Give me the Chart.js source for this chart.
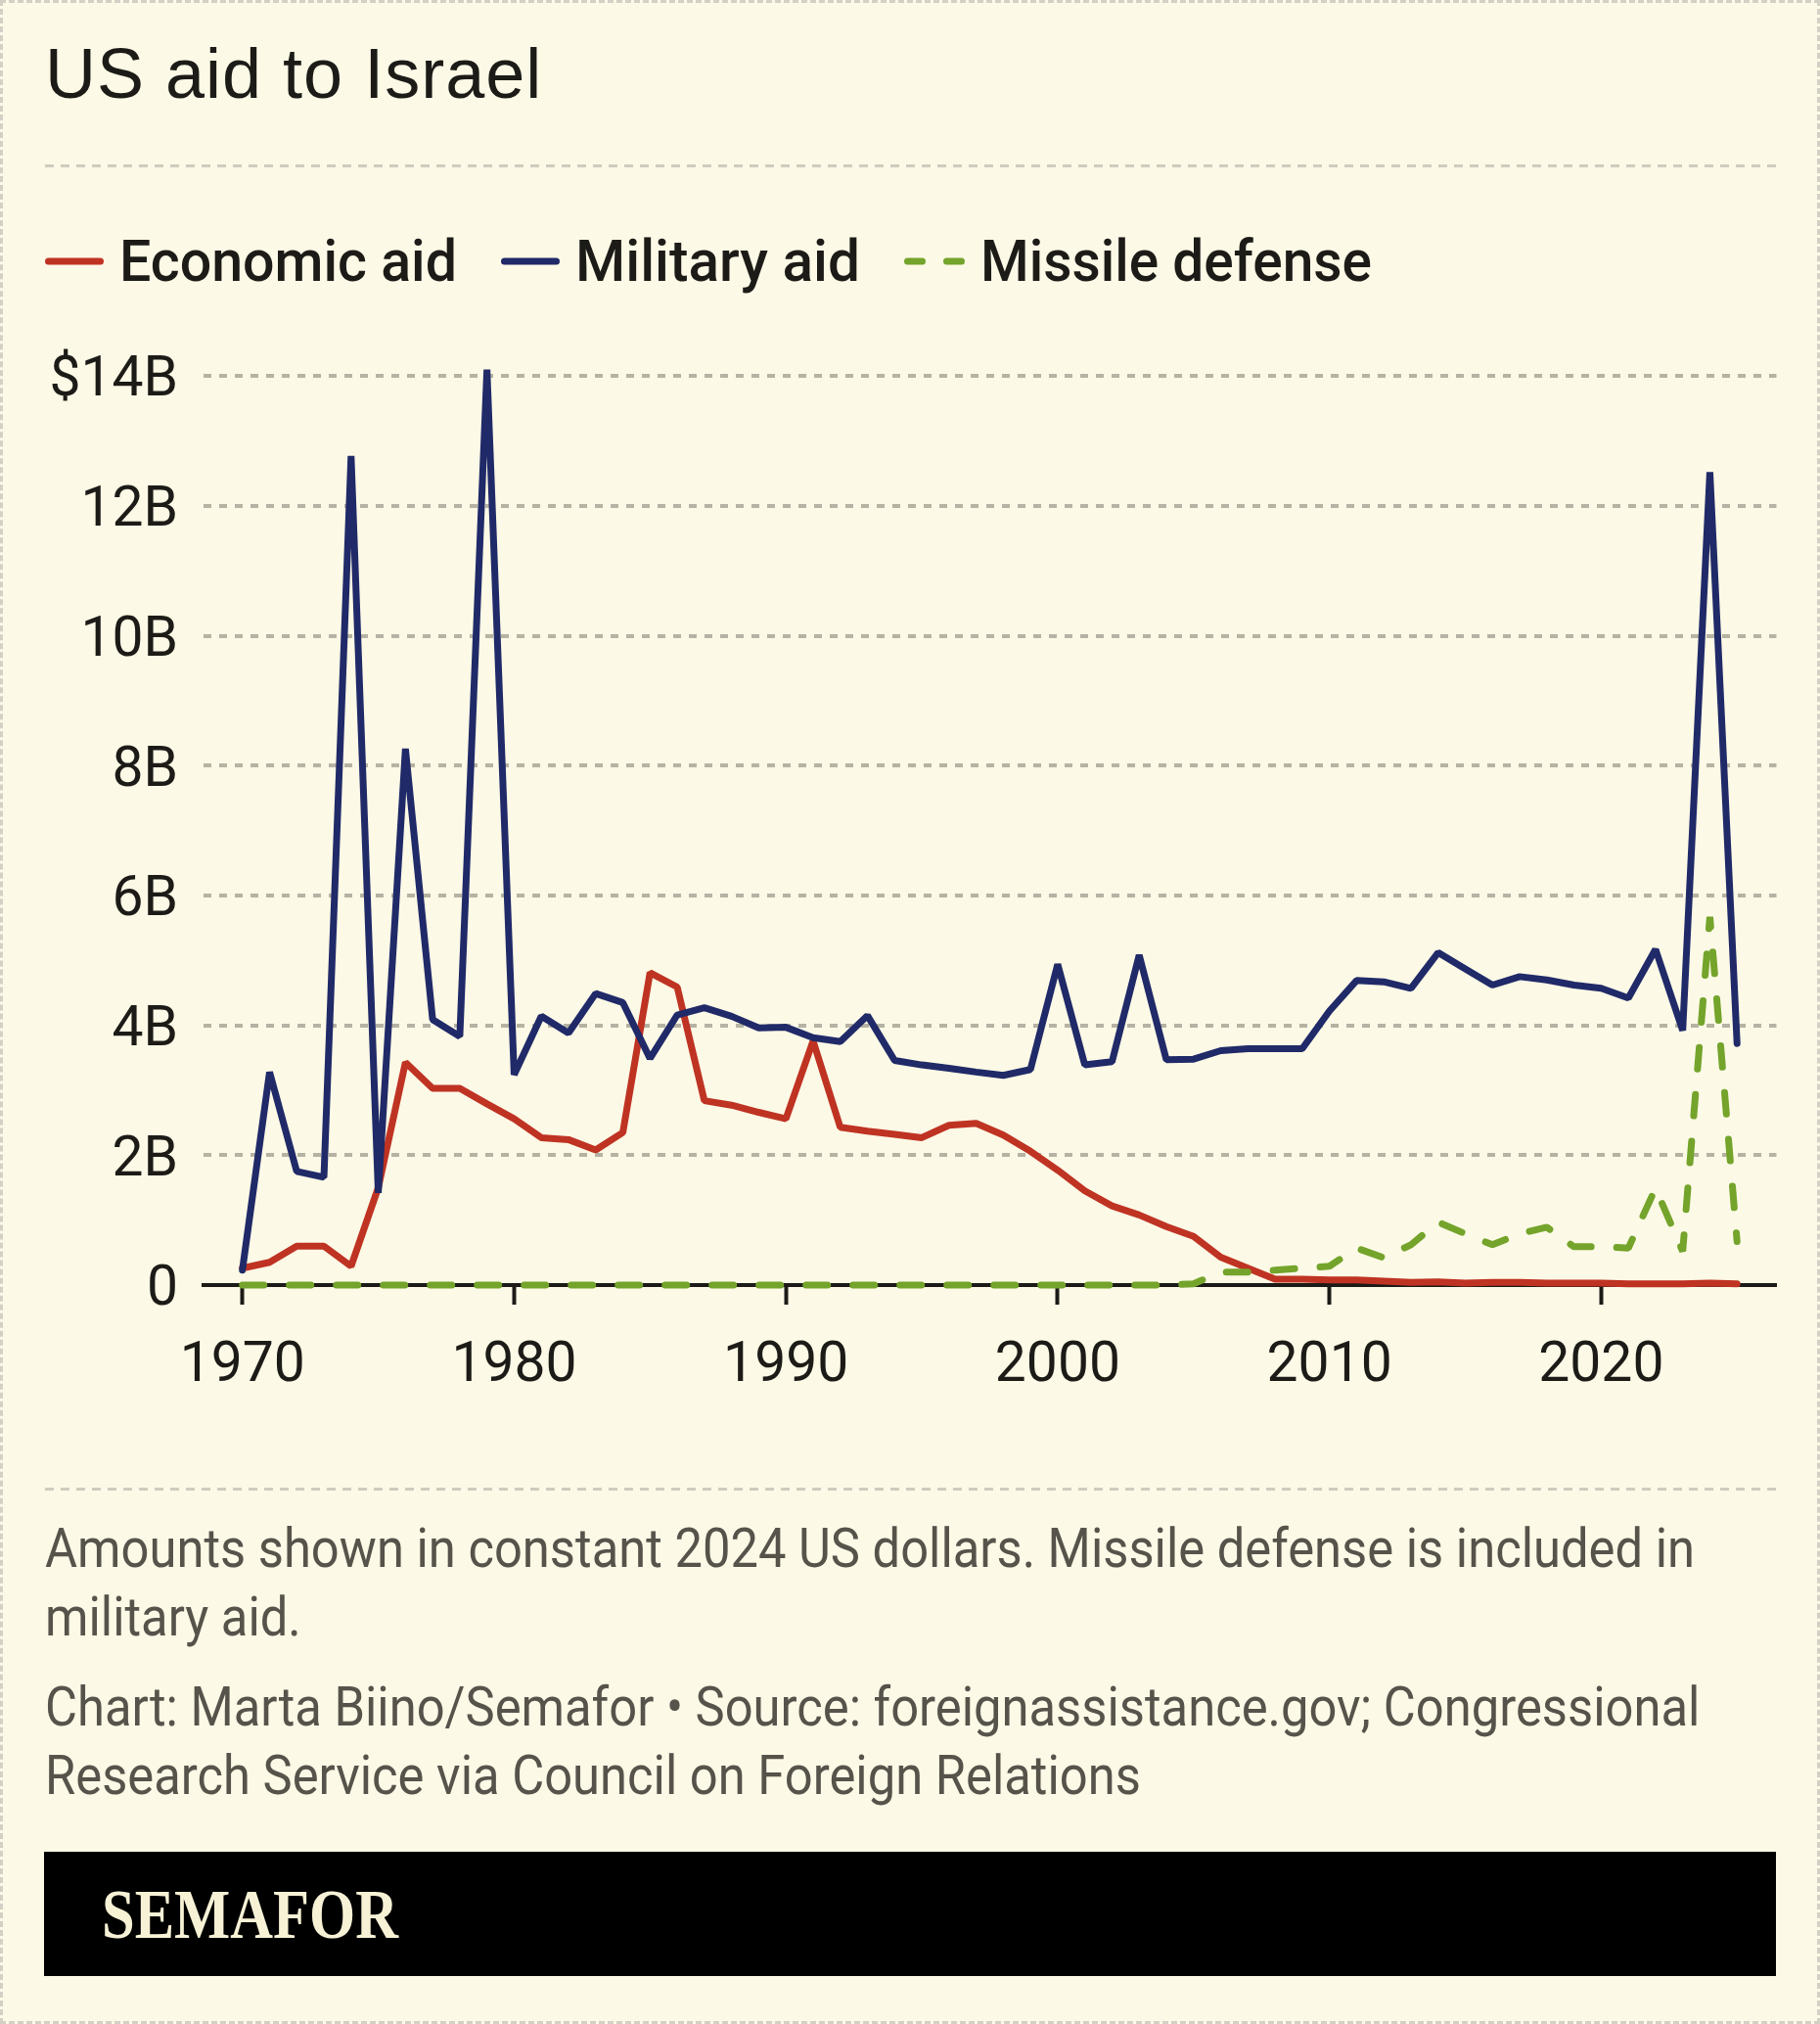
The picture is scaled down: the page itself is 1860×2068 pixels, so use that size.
<!DOCTYPE html>
<html>
<head>
<meta charset="utf-8">
<title>US aid to Israel</title>
<script src="https://cdn.jsdelivr.net/npm/chart.js@4.4.1/dist/chart.umd.min.js"></script>
<style>
  body { margin: 0; background: #fcf9e6; }
  .page { position: relative; width: 1860px; height: 2068px; overflow: hidden; background: #fcf9e6; color: #1c1b17; }
  .frame { position: absolute; left: 0; top: 0; width: 1860px; height: 2068px; box-sizing: border-box; border: 3px dashed #d3d0c4; }
  .title { position: absolute; left: 46px; top: 39px; font: 72px/1 "Liberation Sans", Arial, sans-serif; letter-spacing: 1px; white-space: nowrap; }
  .rule { position: absolute; left: 46px; width: 1769px; height: 3px;
          background: repeating-linear-gradient(to right, #cfccbf 0 9px, transparent 9px 16px); }
  .legend { position: absolute; left: 46px; top: 237px; height: 60px; display: flex; align-items: center;
            font: 500 60px/60px Roboto, sans-serif; }
  .legend .item { display: flex; align-items: center; margin-right: 45px; }
  .legend svg { margin-right: 16px; }
  .cond { display: inline-block; white-space: nowrap; transform-origin: 0 50%; }
  #chartBox { position: absolute; left: 0; top: 324px; width: 1860px; height: 1136px; }
  .notes { position: absolute; left: 46px; font: 55px/70px Roboto, sans-serif; color: #56534b; }
  .band { position: absolute; left: 45px; top: 1892px; width: 1770px; height: 127px; background: #000; }
  .logo { position: absolute; left: 59px; top: 28.5px; font: bold 71px/1 "Liberation Serif", serif; color: #f7f2d6; }
</style>
</head>
<body>
<div class="page">
  <div class="frame"></div>
  <div class="title">US aid to Israel</div>
  <div class="rule" style="top:167.5px"></div>
  <div class="legend" id="legend"></div>
  <div id="chartBox"><canvas id="aidChart" width="1860" height="1136"></canvas></div>
  <div class="rule" style="top:1519.5px"></div>
  <div class="notes" style="top:1547px">
    <div><span class="cond note">Amounts shown in constant 2024 US dollars. Missile defense is included in</span></div>
    <div><span class="cond note">military aid.</span></div>
  </div>
  <div class="notes" style="top:1709px">
    <div><span class="cond note">Chart: Marta Biino/Semafor • Source: foreignassistance.gov; Congressional</span></div>
    <div><span class="cond note">Research Service via Council on Foreign Relations</span></div>
  </div>
  <div class="band"><span class="logo cond" id="logo">SEMAFOR</span></div>
</div>

<script>
let years = [1970, 1971, 1972, 1973, 1974, 1975, 1976, 1977, 1978, 1979,
    1980, 1981, 1982, 1983, 1984, 1985, 1986, 1987, 1988, 1989,
    1990, 1991, 1992, 1993, 1994, 1995, 1996, 1997, 1998, 1999,
    2000, 2001, 2002, 2003, 2004, 2005, 2006, 2007, 2008, 2009,
    2010, 2011, 2012, 2013, 2014, 2015, 2016, 2017, 2018, 2019,
    2020, 2021, 2022, 2023, 2024, 2025];

// billions of constant 2024 dollars
let economicAid = [0.26, 0.35, 0.60, 0.60, 0.29, 1.50, 3.43, 3.03, 3.03, 2.79,
    2.56, 2.27, 2.24, 2.08, 2.35, 4.81, 4.59, 2.84, 2.77, 2.66,
    2.56, 3.76, 2.43, 2.37, 2.32, 2.27, 2.46, 2.49, 2.31, 2.06,
    1.77, 1.45, 1.22, 1.08, 0.90, 0.75, 0.43, 0.26, 0.09, 0.09,
    0.08, 0.08, 0.06, 0.04, 0.05, 0.03, 0.04, 0.04, 0.03, 0.03,
    0.03, 0.02, 0.02, 0.02, 0.03, 0.02];

let militaryAid = [0.23, 3.28, 1.75, 1.66, 12.77, 1.42, 8.26, 4.09, 3.83, 14.1,
    3.24, 4.14, 3.88, 4.49, 4.35, 3.49, 4.16, 4.27, 4.14, 3.96,
    3.97, 3.81, 3.75, 4.15, 3.46, 3.39, 3.34, 3.28, 3.23, 3.32,
    4.94, 3.39, 3.44, 5.08, 3.47, 3.48, 3.61, 3.64, 3.64, 3.64,
    4.22, 4.69, 4.67, 4.57, 5.12, 4.87, 4.62, 4.75, 4.70, 4.62,
    4.57, 4.42, 5.17, 3.92, 12.52, 3.72];

let missileDefense = [0, 0, 0, 0, 0, 0, 0, 0, 0, 0,
    0, 0, 0, 0, 0, 0, 0, 0, 0, 0,
    0, 0, 0, 0, 0, 0, 0, 0, 0, 0,
    0, 0, 0, 0, 0, 0.02, 0.2, 0.2, 0.23, 0.26,
    0.29, 0.57, 0.42, 0.62, 0.97, 0.79, 0.62, 0.79, 0.89, 0.59,
    0.59, 0.57, 1.49, 0.52, 5.67, 0.67];

let seriesNames = ['Economic aid', 'Military aid', 'Missile defense'];
let xTicks = [1970, 1980, 1990, 2000, 2010, 2020];
let yTicks = [0, 2, 4, 6, 8, 10, 12, 14];
let yTickLabels = ['0', '2B', '4B', '6B', '8B', '10B', '12B', '$14B'];

function pairs(values) {
    return years.map((year, i) => ({ x: year, y: values[i] }));
}

function aidChart() {
    let ink = '#1c1b17';
    let tickFont = { family: 'Roboto', size: 57 };

    let aidData = {
        datasets: [
            { label: seriesNames[0], data: pairs(economicAid), borderColor: '#bf3323', order: 2 },
            { label: seriesNames[1], data: pairs(militaryAid), borderColor: '#202a68', order: 1 },
            { label: seriesNames[2], data: pairs(missileDefense), borderColor: '#74a42b',
              borderDash: [22, 26], order: 0 }
        ]
    };

    let aidOptions = {
        responsive: false,
        devicePixelRatio: 1,
        animation: false,
        layout: { padding: { top: 0, right: 44.5, left: 0, bottom: 0 } },
        elements: {
            line: { borderWidth: 7, tension: 0, fill: false,
                    borderCapStyle: 'round', borderJoinStyle: 'bevel' },
            point: { radius: 0 }
        },
        datasets: { line: { clip: false } },
        plugins: {
            legend: { display: false },
            tooltip: { enabled: false }
        },
        scales: {
            x: {
                type: 'linear',
                min: 1968.57,
                max: 2026.45,
                afterBuildTicks: scale => { scale.ticks = xTicks.map(v => ({ value: v })); },
                afterFit: scale => { scale.height = 147; },
                grid: { drawOnChartArea: false, drawTicks: true, tickLength: 20,
                        tickWidth: 4, tickColor: ink },
                border: { display: true, color: ink, width: 4 },
                ticks: { padding: 30, color: ink, font: tickFont, maxRotation: 0,
                         callback: v => String(v) }
            },
            y: {
                min: 0,
                max: 14,
                afterBuildTicks: scale => { scale.ticks = yTicks.map(v => ({ value: v })); },
                afterFit: scale => { scale.width = 208; },
                grid: { drawTicks: false, lineWidth: 4,
                        color: ctx => ctx.tick && ctx.tick.value === 0 ? 'rgba(0,0,0,0)' : '#b6b3a4' },
                border: { display: false, dash: [8, 8] },
                ticks: { padding: 26, labelOffset: 6, color: ink, font: tickFont,
                         callback: v => yTickLabels[yTicks.indexOf(v)] }
            }
        }
    };

    return new Chart(document.getElementById('aidChart'), {
        type: 'line',
        data: aidData,
        options: aidOptions
    });
}

function buildLegend(chart) {
    let legend = document.getElementById('legend');
    chart.data.datasets.forEach(ds => {
        let dashed = ds.borderDash && ds.borderDash.length;
        let w = dashed ? 62 : 60;
        let item = document.createElement('div');
        item.className = 'item';
        item.innerHTML =
            '<svg width="' + w + '" height="8"><line x1="3.5" y1="4" x2="' + (w - 3.5) + '" y2="4" stroke="' +
            ds.borderColor + '" stroke-width="7" stroke-linecap="round"' +
            (dashed ? ' stroke-dasharray="15 25"' : '') + '/></svg>' +
            '<span class="cond legend-text">' + ds.label + '</span>';
        legend.appendChild(item);
    });
}

// squeeze text sideways so the wider fallback font takes the condensed width
function condense(spans, targets) {
    let widths = spans.map(s => s.getBoundingClientRect().width);
    spans.forEach((s, i) => {
        let k = targets[i] / widths[i];
        s.style.transform = 'scaleX(' + k + ')';
        s.style.marginRight = (targets[i] - widths[i]) + 'px';
    });
}

let chart = aidChart();
buildLegend(chart);

condense(Array.from(document.querySelectorAll('.legend-text')), [345, 291, 400]);

let noteSpans = Array.from(document.querySelectorAll('.note'));
let noteK = 1686 / noteSpans[0].getBoundingClientRect().width;
condense(noteSpans, noteSpans.map(s => s.getBoundingClientRect().width * noteK));

condense([document.getElementById('logo')], [303]);
</script>
</body>
</html>
